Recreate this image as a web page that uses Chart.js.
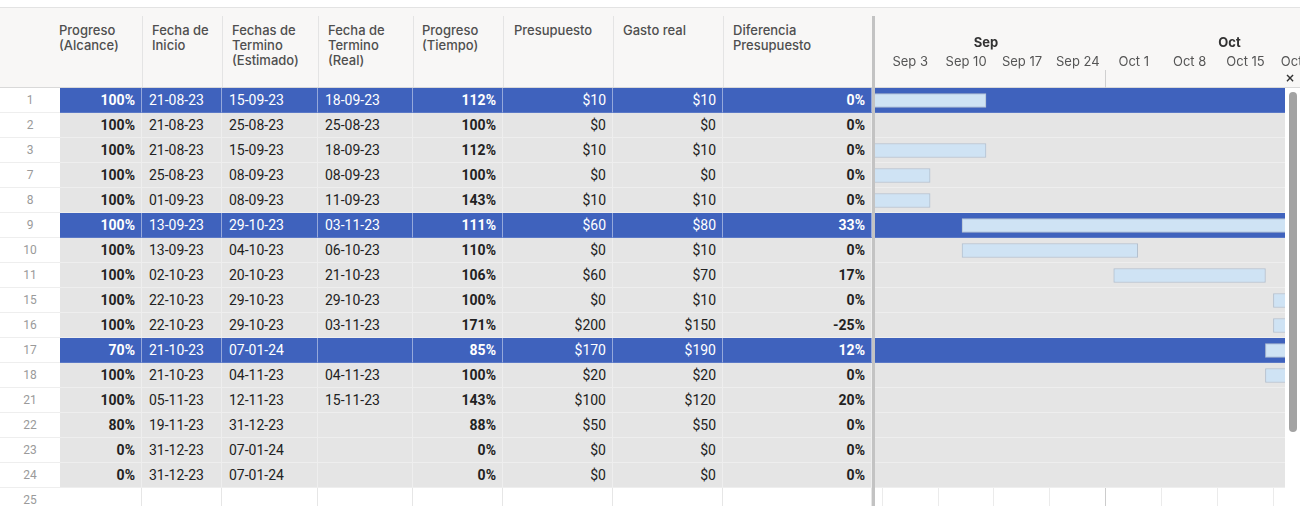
<!DOCTYPE html>
<html>
<head>
<meta charset="utf-8">
<script src="https://cdn.jsdelivr.net/npm/chart.js@4.4.1/dist/chart.umd.min.js"></script>
<style>
html,body{margin:0;padding:0;background:#fff;}
body{width:1307px;height:506px;overflow:hidden;position:relative;font-family:Roboto,"Liberation Sans",Arial,sans-serif;}
#topline{position:absolute;left:0;top:7px;width:1300px;height:1px;background:#e3e3e3;}
#head{position:absolute;left:0;top:8px;width:1300px;height:79px;background:#f8f7f6;border-bottom:1px solid #d9d9d9;}
.hc{position:absolute;top:8px;height:79px;box-sizing:border-box;padding-top:14.5px;font-family:Inter,sans-serif;font-size:13px;line-height:15px;color:#4f4f4f;font-weight:500;white-space:nowrap;}
.hsep{position:absolute;top:16px;height:71px;width:1px;background:#e4e4e4;}
.rn{position:absolute;left:0;width:60px;height:25px;box-sizing:border-box;border-bottom:1px solid #eeeeee;text-align:center;font-size:12px;line-height:24px;color:#9a9a9a;background:#fff;}
.cell{position:absolute;height:25px;box-sizing:border-box;font-size:14px;line-height:24px;white-space:nowrap;overflow:hidden;}
#vsep{position:absolute;left:872px;top:16px;width:3px;height:490px;background:#c3c3c3;}
#gantt{position:absolute;left:875px;top:8px;}
#scroll{position:absolute;left:1289px;top:92px;width:8px;height:340px;background:#a3a3a3;border-radius:4px;}
#closex{position:absolute;left:1285px;top:71px;font-family:"DejaVu Sans",sans-serif;font-size:12px;font-weight:bold;color:#333;}
</style>
</head>
<body>
<div id="topline"></div>
<div id="head"></div>
<div id="table"></div>
<canvas id="gantt" width="425" height="498"></canvas>
<div id="vsep"></div>
<div id="scroll"></div>
<div id="closex">×</div>
<script>
// Data read from the sheet
const rowNums = [1,2,3,7,8,9,10,11,15,16,17,18,21,22,23,24];
const highlighted = [1,9,17];
const alcance = [100,100,100,100,100,100,100,100,100,100,70,100,100,80,0,0];
const inicio = ['21-08-23','21-08-23','21-08-23','25-08-23','01-09-23','13-09-23','13-09-23','02-10-23','22-10-23','22-10-23','21-10-23','21-10-23','05-11-23','19-11-23','31-12-23','31-12-23'];
const estimado = ['15-09-23','25-08-23','15-09-23','08-09-23','08-09-23','29-10-23','04-10-23','20-10-23','29-10-23','29-10-23','07-01-24','04-11-23','12-11-23','31-12-23','07-01-24','07-01-24'];
const real = ['18-09-23','25-08-23','18-09-23','08-09-23','11-09-23','03-11-23','06-10-23','21-10-23','29-10-23','03-11-23','','04-11-23','15-11-23','','',''];
const tiempo = [112,100,112,100,143,111,110,106,100,171,85,100,143,88,0,0];
const presupuesto = [10,0,10,0,10,60,0,60,0,200,170,20,100,50,0,0];
const gasto = [10,0,10,0,10,80,10,70,10,150,190,20,120,50,0,0];
const diferencia = [0,0,0,0,0,33,0,17,0,-25,12,0,20,0,0,0];

const headers = ['Progreso<br>(Alcance)','Fecha de<br>Inicio','Fechas de<br>Termino<br>(Estimado)','Fecha de<br>Termino<br>(Real)','Progreso<br>(Tiempo)','Presupuesto','Gasto real','Diferencia<br>Presupuesto'];

// timeline ticks
const weekStarts = ['03-09-23','10-09-23','17-09-23','24-09-23','01-10-23','08-10-23','15-10-23','22-10-23'];
const weekLabels = ['Sep 3','Sep 10','Sep 17','Sep 24','Oct 1','Oct 8','Oct 15','Oct 22'];
const monthStarts = ['01-09-23','01-10-23','01-11-23'];
const monthLabels = ['Sep','Oct'];

// layout of the columns
const cols = [
  {l:60, w:82, hx:59, v:i=>alcance[i]+'%', right:true, bold:true},
  {l:142,w:80, hx:152,v:i=>inicio[i]},
  {l:222,w:96, hx:232,v:i=>estimado[i]},
  {l:318,w:95, hx:328,v:i=>real[i]},
  {l:413,w:90, hx:422,v:i=>tiempo[i]+'%', right:true, bold:true},
  {l:503,w:110,hx:514,v:i=>'$'+presupuesto[i], right:true},
  {l:613,w:110,hx:623,v:i=>'$'+gasto[i], right:true},
  {l:723,w:149,hx:733,v:i=>diferencia[i]+'%', right:true, bold:true}
];

const BLUE = '#3f62bd', GRAY = '#e5e5e5';
const ROW_TOP = 88, ROW_H = 25;

// header
let h = '';
cols.forEach((c,k)=>{
  h += `<div class="hc" style="left:${c.hx}px">${headers[k]}</div>`;
  if(k>0) h += `<div class="hsep" style="left:${c.l}px"></div>`;
});
document.getElementById('head').insertAdjacentHTML('afterend', h);

// body rows
let t = '';
rowNums.forEach((n,i)=>{
  const top = ROW_TOP + i*ROW_H;
  const hi = highlighted.includes(n);
  t += `<div class="rn" style="top:${top}px">${n}</div>`;
  cols.forEach(c=>{
    const st = [
      `left:${c.l}px`,`top:${top}px`,`width:${c.w}px`,
      `background:${hi?BLUE:GRAY}`,
      `color:${hi?'#fff':'#222'}`,
      `border-bottom:1px solid ${hi?'#5a78c6':'#eeeeee'}`,
      `border-right:1px solid ${hi?'rgba(255,255,255,0.45)':'rgba(255,255,255,0.35)'}`,
      `text-align:${c.right?'right':'left'}`,
      c.right?'padding-right:6px':'padding-left:7px',
      `font-weight:${c.bold?'bold':'normal'}`
    ].join(';');
    t += `<div class="cell" style="${st}">${c.v(i)}</div>`;
  });
});
const lastTop = ROW_TOP + rowNums.length*ROW_H;
t += `<div class="rn" style="top:${lastTop}px;border-bottom:none">25</div>`;
cols.forEach(c=>{
  t += `<div class="cell" style="left:${c.l}px;top:${lastTop}px;width:${c.w}px;border-right:1px solid #e6e6e6"></div>`;
});
document.getElementById('table').innerHTML = t;

// dates to day numbers (day 0 = Sep 3 2023)
const base = Date.UTC(2023,8,3);
function toDay(s){
  const p = s.split('-');
  return (Date.UTC(2000 + +p[2], +p[1]-1, +p[0]) - base) / 86400000;
}
const weekDays = weekStarts.map(toDay);
const monthDays = monthStarts.map(toDay);
const monthMids = monthLabels.map((m,i)=>(monthDays[i]+monthDays[i+1])/2);
const ganttData = inicio.map((s,i)=>({x:[toDay(s), toDay(estimado[i])+1], y:i}));

// row bands behind the bars
const bands = {
  id:'bands',
  beforeDatasetsDraw(chart){
    const {ctx, chartArea:a, scales:{y}} = chart;
    ctx.save();
    ctx.beginPath(); ctx.rect(a.left, a.top, a.right-a.left, a.bottom-a.top); ctx.clip();
    rowNums.forEach((n,i)=>{
      const hi = highlighted.includes(n);
      const y0 = Math.round(y.getPixelForValue(i-0.5));
      ctx.fillStyle = hi ? BLUE : GRAY;
      ctx.fillRect(a.left, y0, a.right-a.left, ROW_H-1);
      ctx.fillStyle = hi ? '#5a78c6' : '#eeeeee';
      ctx.fillRect(a.left, y0+ROW_H-1, a.right-a.left, 1);
    });
    ctx.restore();
  }
};

const X_MIN = -0.9, X_MAX = 50.45;

new Chart(document.getElementById('gantt'), {
  type:'bar',
  data:{datasets:[{
    data:ganttData,
    backgroundColor:'#cfe3f4',
    borderColor:'#b3c0cf',
    borderWidth:1,
    borderSkipped:false,
    barThickness:14
  }]},
  options:{
    indexAxis:'y',
    responsive:false,
    animation:false,
    layout:{padding:{left:0,right:15,top:0,bottom:0}},
    plugins:{legend:{display:false}, tooltip:{enabled:false}},
    scales:{
      x:{
        type:'linear', position:'top', min:X_MIN, max:X_MAX, weight:0, offset:false,
        afterBuildTicks:s=>{ s.ticks = weekDays.map(v=>({value:v})); },
        afterFit:s=>{ s.height = 34; s.paddingLeft = 0; s.paddingRight = 0; },
        ticks:{autoSkip:false, maxRotation:0, minRotation:0, padding:0, labelOffset:28,
          color:'#555', font:{family:'Inter', size:13},
          callback:(v,i)=>weekLabels[i]},
        grid:{drawTicks:true, tickLength:18,
          tickColor:c=>(c.tick && c.tick.value===monthDays[1]) ? '#d0d0d0' : 'rgba(0,0,0,0)',
          color:c=>(c.tick && c.tick.value===monthDays[1]) ? '#cccccc' : '#ebebeb'},
        border:{display:false}
      },
      x2:{
        axis:'x', type:'linear', position:'top', min:X_MIN, max:X_MAX, weight:1, offset:false,
        afterBuildTicks:s=>{ s.ticks = monthMids.map(v=>({value:v})); },
        afterFit:s=>{ s.height = 46; s.paddingLeft = 0; s.paddingRight = 0; },
        ticks:{autoSkip:false, maxRotation:0, minRotation:0, padding:3,
          color:'#333', font:{family:'Inter', size:13, weight:'bold'},
          callback:(v,i)=>monthLabels[i]},
        grid:{display:false, drawTicks:false},
        border:{display:false}
      },
      y:{type:'linear', display:false, offset:false, min:-0.5, max:16.22, reverse:true, grid:{offset:false}}
    }
  },
  plugins:[bands]
});
</script>
</body>
</html>
